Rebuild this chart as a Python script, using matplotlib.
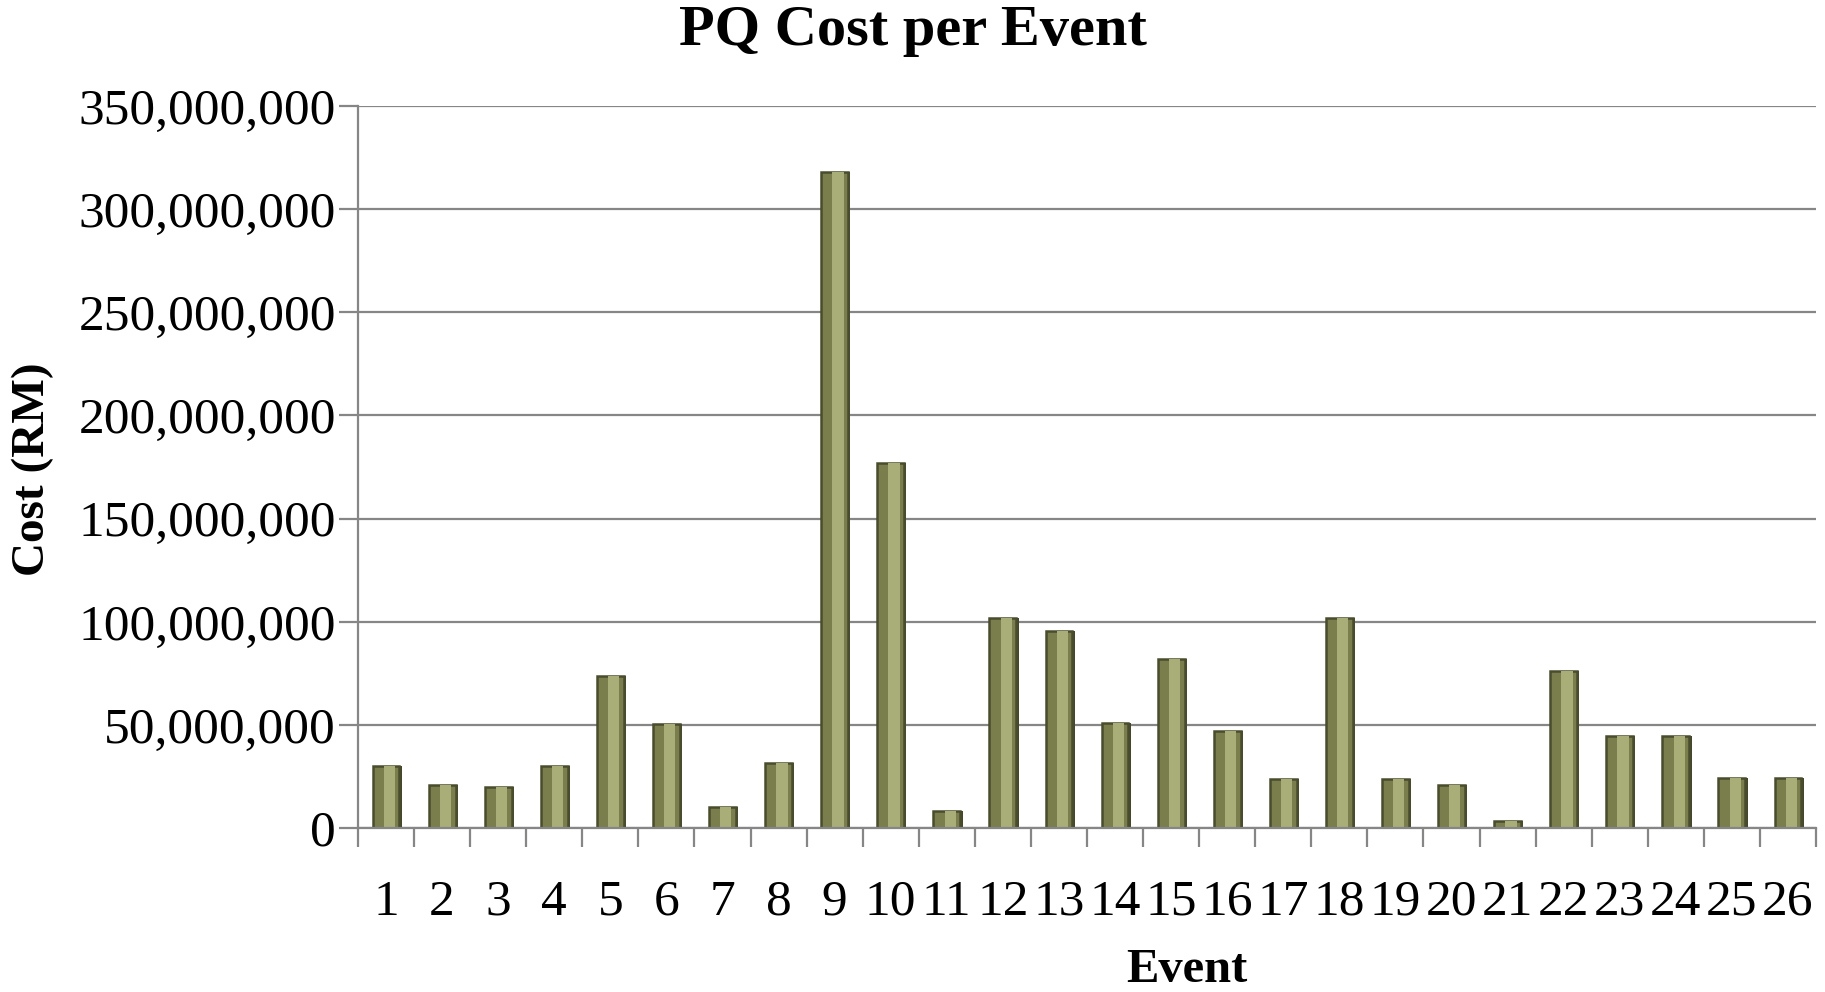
import numpy as np
import matplotlib.pyplot as plt
from matplotlib.ticker import FuncFormatter, MultipleLocator

plt.rcParams['font.family'] = ['Liberation Serif', 'DejaVu Serif']

# data
events = [str(i) for i in range(1, 27)]
cost = [30.2e6, 21e6, 20e6, 30.2e6, 73.8e6, 50.5e6, 10.3e6, 31.7e6, 318e6, 177e6,
        8e6, 101.6e6, 95.4e6, 50.8e6, 81.8e6, 46.8e6, 23.7e6, 101.6e6, 23.7e6, 20.9e6,
        3.4e6, 76.2e6, 44.6e6, 44.6e6, 24.3e6, 24.3e6]

x = np.arange(len(events))

fig = plt.figure(figsize=(18.25, 9.92), dpi=100)
ax = fig.add_axes([358 / 1825, 1 - 828 / 992, (1816 - 358) / 1825, (828 - 106) / 992])

# bars: dark base, shaded face, lighter highlight stripe (bevelled look)
ax.bar(x + 0.03, cost, width=0.5, color='#44472a', zorder=2)
ax.bar(x, cost, width=0.48, color='#7a7d4c', edgecolor='#4a4d2d', linewidth=1.8, zorder=3)
ax.bar(x + 0.06, cost, width=0.2, color='#a9ad78', linewidth=0, zorder=4)

ax.set_xlim(-0.5, len(events) - 0.5)
ax.set_ylim(0, 350e6)
ax.yaxis.set_major_locator(MultipleLocator(50e6))
ax.yaxis.set_major_formatter(FuncFormatter(lambda v, p: f'{int(v):,}'))
ax.grid(axis='y', color='#868686', linewidth=1.6, zorder=0)

ax.set_xticks(x)
ax.set_xticklabels(events)
ax.set_xticks(np.arange(len(events) + 1) - 0.5, minor=True)
ax.tick_params(axis='x', which='major', length=0, pad=37, labelsize=37)
ax.tick_params(axis='x', which='minor', length=14, width=1.6, color='#868686')
ax.tick_params(axis='y', length=14, width=1.6, color='#868686', pad=2, labelsize=37)

for s in ['top', 'right']:
    ax.spines[s].set_visible(False)
for s in ['left', 'bottom']:
    ax.spines[s].set_color('#868686')
    ax.spines[s].set_linewidth(1.6)
ax.spines['bottom'].set_zorder(5)

fig.text(0.5, 0.995, 'PQ Cost per Event', ha='center', va='top', fontsize=42, fontweight='bold')
fig.text(1187 / 1825, 10 / 992, 'Event', ha='center', va='baseline', fontsize=35, fontweight='bold')
fig.text(33 / 1825, 1 - 469 / 992, 'Cost (RM)', ha='center', va='center', rotation=90,
         fontsize=34, fontweight='bold')

fig.savefig('out.png', dpi=100)
